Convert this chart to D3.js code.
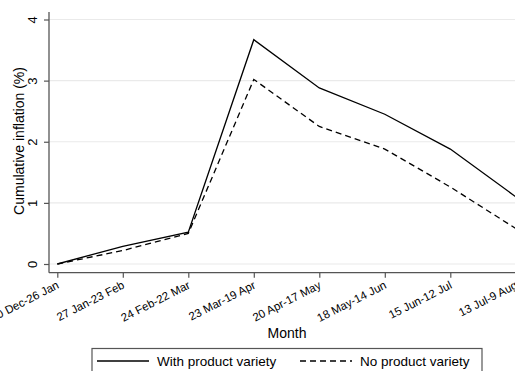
<!DOCTYPE html>
<html>
<head>
<meta charset="utf-8">
<script src="https://cdn.jsdelivr.net/npm/d3@7"></script>
<style>
  html, body { margin: 0; padding: 0; background: #fff; }
  svg { display: block; font-family: "Liberation Sans", Arial, sans-serif; }
</style>
</head>
<body>
<svg id="chart" width="515" height="371"></svg>
<script>
// Four-week periods
const months = ["30 Dec-26 Jan", "27 Jan-23 Feb", "24 Feb-22 Mar", "23 Mar-19 Apr",
                "20 Apr-17 May", "18 May-14 Jun", "15 Jun-12 Jul", "13 Jul-9 Aug"];
// Cumulative inflation (%)
const withVariety = [0, 0.29, 0.52, 3.67, 2.88, 2.45, 1.88, 1.10];
const noVariety   = [0, 0.22, 0.50, 3.02, 2.25, 1.88, 1.26, 0.58];
const yTicks = [0, 1, 2, 3, 4];
const seriesNames = ["With product variety", "No product variety"];

const svg = d3.select("#chart");

const axisX = 49, axisY = 272.7;
const x = d3.scalePoint().domain(months).range([57.3, 515.8]);
const y = d3.scaleLinear().domain([0, 4]).range([264, 19.5]);

// Grid lines
svg.append("g").selectAll("line").data(yTicks).join("line")
  .attr("x1", axisX).attr("x2", 515)
  .attr("y1", d => y(d)).attr("y2", d => y(d))
  .attr("stroke", "#eaeaea").attr("stroke-width", 1.2);

// Y axis
const yAxis = svg.append("g").attr("transform", `translate(${axisX},0)`)
  .call(d3.axisLeft(y).tickValues(yTicks).tickSize(5).tickPadding(4).tickFormat(d3.format("d")));
yAxis.select(".domain").remove();
yAxis.append("line").attr("x1", 0).attr("x2", 0).attr("y1", 12).attr("y2", axisY)
  .attr("stroke", "#555").attr("stroke-width", 1.3);
yAxis.selectAll(".tick line").attr("stroke", "#555").attr("stroke-width", 1.2);
yAxis.selectAll(".tick text")
  .attr("fill", "#000").attr("font-size", 13)
  .attr("text-anchor", "middle")
  .attr("x", null).attr("dy", null)
  .attr("transform", "translate(-12,0) rotate(-90)")
  .attr("y", 0);

// X axis
const xAxis = svg.append("g").attr("transform", `translate(0,${axisY})`)
  .call(d3.axisBottom(x).tickSize(5).tickPadding(3));
xAxis.select(".domain").remove();
xAxis.append("line").attr("x1", axisX).attr("x2", 515).attr("y1", 0).attr("y2", 0)
  .attr("stroke", "#555").attr("stroke-width", 1.3);
xAxis.selectAll(".tick line").attr("stroke", "#555").attr("stroke-width", 1.2);
xAxis.selectAll(".tick text")
  .attr("fill", "#000").attr("font-size", 11.5)
  .attr("text-anchor", "end")
  .attr("y", 0).attr("dy", null)
  .attr("transform", "translate(2,15) rotate(-27)");

// Axis titles
svg.append("text")
  .attr("transform", "translate(23.5,141) rotate(-90)")
  .attr("text-anchor", "middle").attr("font-size", 14).text("Cumulative inflation (%)");
svg.append("text")
  .attr("x", 287).attr("y", 338)
  .attr("text-anchor", "middle").attr("font-size", 14).text("Month");

// Series lines
const line = d3.line().x((d, i) => x(months[i])).y(d => y(d));
svg.append("path").datum(withVariety).attr("d", line)
  .attr("fill", "none").attr("stroke", "#000").attr("stroke-width", 1.3);
svg.append("path").datum(noVariety).attr("d", line)
  .attr("fill", "none").attr("stroke", "#000").attr("stroke-width", 1.3)
  .attr("stroke-dasharray", "6,4");

// Legend
const legend = svg.append("g");
legend.append("rect").attr("x", 92).attr("y", 348.5).attr("width", 390).attr("height", 40)
  .attr("fill", "#fff").attr("stroke", "#555").attr("stroke-width", 1.2);
const items = [
  { name: seriesNames[0], x0: 97, dash: null },
  { name: seriesNames[1], x0: 300, dash: "6,4" }
];
items.forEach(it => {
  legend.append("line").attr("x1", it.x0).attr("x2", it.x0 + 52)
    .attr("y1", 361).attr("y2", 361)
    .attr("stroke", "#000").attr("stroke-width", 1.3)
    .attr("stroke-dasharray", it.dash);
  legend.append("text").attr("x", it.x0 + 60).attr("y", 366)
    .attr("font-size", 13.5).text(it.name);
});
</script>
</body>
</html>
